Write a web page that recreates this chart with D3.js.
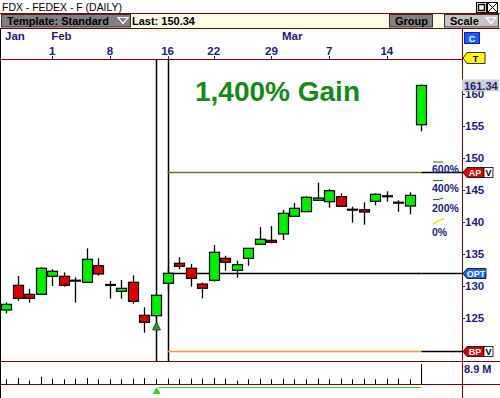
<!DOCTYPE html>
<html><head><meta charset="utf-8">
<script src="https://cdn.jsdelivr.net/npm/d3@7"></script>
<style>
body{margin:0;background:#fff;overflow:hidden}
svg{display:block;font-family:Arial,"Liberation Sans",sans-serif}
</style>
</head><body>
<svg id="c" width="500" height="398"></svg>
<script>
// ---- data ----
const opens  = [126.25,130.11,128.70,128.70,131.52,131.52,130.83,130.58,133.17,130.16,129.17,130.58,125.42,125.36,130.42,133.55,132.77,130.31,130.89,134.33,132.45,134.33,136.52,137.14,138.13,140.89,141.61,143.39,143.17,143.95,141.92,141.92,143.23,144.02,143.02,142.50,155.20];
const highs  = [127.45,131.56,129.53,132.90,132.61,132.14,131.36,135.89,134.33,130.78,130.94,131.67,126.67,128.80,132.86,134.53,133.44,130.52,136.41,134.73,133.95,135.90,139.22,139.38,141.88,142.97,144.06,146.14,145.16,144.48,142.39,143.08,144.48,144.80,143.39,144.64,161.50];
const lows   = [125.73,127.70,127.39,128.70,130.00,129.89,127.39,130.58,131.61,128.02,128.02,127.23,122.70,125.00,129.10,132.60,129.90,128.08,130.67,132.39,131.30,133.17,136.52,136.67,137.19,140.89,141.60,143.39,142.23,142.45,139.90,139.58,142.61,143.17,141.61,141.20,154.17];
const closes = [127.14,128.08,128.08,132.77,132.30,130.11,130.83,134.17,131.88,130.16,129.64,127.61,124.33,128.55,131.98,133.08,131.20,129.64,135.27,133.70,133.33,135.89,137.30,136.88,141.36,142.14,143.86,143.75,144.89,142.45,141.92,141.56,144.33,144.02,143.02,144.17,161.34];
const volumes = [2.1,2.7,1.6,3.2,2.4,2.1,2.4,2.7,2.1,2.1,2.1,2.4,2.7,2.1,2.4,2.1,2.4,2.4,2.7,2.4,1.5,2.1,2.4,2.1,2.4,2.1,2.1,2.4,2.1,2.4,2.1,2.4,2.1,2.4,2.4,2.1,8.9];
const dayTickIdx = [4,9,14,18,23,28,33];
const dayTickLabels = ["1","8","16","22","29","7","14"];
const monthIdx = [0,4,24];
const monthLabels = ["Jan","Feb","Mar"];
const priceTicks = [125,130,135,140,145,150,155,160];
const lastPrice = 161.34;
const lastQuote = "Last: 150.34";
const levelNames = ["AP","OPT","BP"];
const levelValues = [147.8,132.0,119.85];
const pctLabels = ["600%","400%","200%","0%"];
const volumeLabel = "8.9 M";
const title = "FDX - FEDEX - F (DAILY)";
const gainText = "1,400% Gain";
const signalIdx = 13;

// ---- styles ----
const MAROON = "#800000", NAVY = "#1c1c84", GREEN = "#00ee00", RED = "#e00000";
const svg = d3.select("#c");

const x = d3.scaleLinear().domain([0, opens.length - 1]).range([6, 421.4]);
const y = d3.scaleLinear().domain([140, 160]).range([222, 94]);
const yv = d3.scaleLinear().domain([0, 8.9]).range([384, 364]);
const AX = 462;

// title bar
svg.append("text").attr("x", 2).attr("y", 11).attr("font-size", 11.5)
  .attr("textLength", 120).attr("lengthAdjust", "spacingAndGlyphs").text(title);
svg.append("rect").attr("x", 476.5).attr("y", 2.5).attr("width", 10).attr("height", 10).attr("fill", "#fff").attr("stroke", "#000");
svg.append("rect").attr("x", 478.5).attr("y", 4.5).attr("width", 6).attr("height", 6).attr("fill", "none").attr("stroke", "#000").attr("stroke-width", 1.5);
svg.append("rect").attr("x", 487.5).attr("y", 2.5).attr("width", 10).attr("height", 10).attr("fill", "#fff").attr("stroke", "#000");
svg.append("path").attr("d", "M488,3L497,12M497,3L488,12").attr("stroke", "#000");

// toolbar
svg.append("rect").attr("x", 0).attr("y", 13.5).attr("width", 500).attr("height", 15).attr("fill", "#fffde4");
svg.append("line").attr("x1", 0).attr("x2", 500).attr("y1", 13.5).attr("y2", 13.5).attr("stroke", MAROON);
svg.append("line").attr("x1", 0).attr("x2", 500).attr("y1", 28.5).attr("y2", 28.5).attr("stroke", MAROON);
function button(x0, w, label, fill, tri) {
  svg.append("rect").attr("x", x0 + 0.5).attr("y", 14.5).attr("width", w).attr("height", 12.5)
    .attr("fill", fill).attr("stroke", "#333");
  svg.append("text").attr("x", x0 + 6).attr("y", 25).attr("font-size", 11).attr("font-weight", "bold").text(label);
  if (tri) {
    const tx = x0 + w - 12;
    svg.append("path").attr("d", `M${tx},17.5L${tx + 10},17.5L${tx + 5},23.5Z`).attr("fill", "none").attr("stroke", "#fff").attr("stroke-width", 1.2);
  }
}
button(1, 129, "Template: Standard", "#808080", true);
svg.append("text").attr("x", 132).attr("y", 25).attr("font-size", 11).attr("font-weight", "bold").text(lastQuote);
button(389, 43, "Group", "#808080", false);
button(444, 54, "Scale", "#c4c4c4", true);

// x-axis header
svg.append("line").attr("x1", 0).attr("x2", AX).attr("y1", 59.5).attr("y2", 59.5).attr("stroke", MAROON);
svg.selectAll(".mon").data(monthIdx).enter().append("text")
  .attr("x", (d, i) => i === 0 ? 5 : x(d) - 1).attr("y", 40)
  .attr("font-size", 11.5).attr("font-weight", "bold").attr("fill", NAVY)
  .text((d, i) => monthLabels[i]);
svg.selectAll(".day").data(dayTickIdx).enter().append("text")
  .attr("x", d => x(d)).attr("y", 55).attr("text-anchor", "middle")
  .attr("font-size", 11.5).attr("font-weight", "bold").attr("fill", NAVY)
  .text((d, i) => dayTickLabels[i]);
svg.selectAll(".dtk").data(dayTickIdx).enter().append("line")
  .attr("x1", d => Math.round(x(d)) + 0.5).attr("x2", d => Math.round(x(d)) + 0.5)
  .attr("y1", 56).attr("y2", 59).attr("stroke", NAVY);

// frame lines
svg.append("line").attr("x1", 0.5).attr("x2", 0.5).attr("y1", 29).attr("y2", 398).attr("stroke", "#000");
svg.append("line").attr("x1", AX + 0.5).attr("x2", AX + 0.5).attr("y1", 29).attr("y2", 398).attr("stroke", MAROON);
svg.append("line").attr("x1", 0).attr("x2", 500).attr("y1", 361.5).attr("y2", 361.5).attr("stroke", MAROON);
svg.append("line").attr("x1", 0).attr("x2", 500).attr("y1", 384.5).attr("y2", 384.5).attr("stroke", MAROON);

// gain text
svg.append("text").attr("x", 195).attr("y", 101).attr("font-size", 28).attr("font-weight", "bold")
  .attr("fill", "#168a16").text(gainText);

// vertical marker lines
[signalIdx, signalIdx + 1].forEach(i => {
  const xx = Math.round(x(i)) + 0.5;
  svg.append("line").attr("x1", xx).attr("x2", xx).attr("y1", 60).attr("y2", 361).attr("stroke", "#000").attr("stroke-width", 1.5);
});

// level lines
const lx0 = x(signalIdx + 1), lx1 = x(opens.length - 1);
const levelColors = ["#5d7f22", "#000", "#f29a2e"];
levelValues.forEach((v, i) => {
  const yy = Math.round(y(v)) + 0.5;
  svg.append("line").attr("x1", lx0).attr("x2", lx1).attr("y1", yy).attr("y2", yy).attr("stroke", levelColors[i]).attr("stroke-width", 1.3);
  svg.append("line").attr("x1", lx1).attr("x2", AX + 2).attr("y1", yy).attr("y2", yy).attr("stroke", "#000").attr("stroke-width", 1.3);
});

// candles
const idx = d3.range(opens.length);
const g = svg.append("g");
g.selectAll(".wick").data(idx).enter().append("line")
  .attr("x1", i => Math.round(x(i)) + 0.5).attr("x2", i => Math.round(x(i)) + 0.5)
  .attr("y1", i => y(highs[i])).attr("y2", i => y(lows[i]))
  .attr("stroke", "#000").attr("stroke-width", 1.3);
g.selectAll(".body").data(idx.filter(i => opens[i] !== closes[i])).enter().append("rect")
  .attr("x", i => Math.round(x(i)) - 4.5).attr("width", 10)
  .attr("y", i => y(Math.max(opens[i], closes[i])))
  .attr("height", i => Math.max(2, Math.abs(y(opens[i]) - y(closes[i]))))
  .attr("fill", i => closes[i] > opens[i] ? GREEN : RED)
  .attr("stroke", "#000").attr("stroke-width", 1.2);
g.selectAll(".doji").data(idx.filter(i => opens[i] === closes[i])).enter().append("line")
  .attr("x1", i => Math.round(x(i)) - 5).attr("x2", i => Math.round(x(i)) + 6)
  .attr("y1", i => y(opens[i])).attr("y2", i => y(opens[i]))
  .attr("stroke", "#000").attr("stroke-width", 2.2);

// signal triangle in price panel
const sx = Math.round(x(signalIdx)) + 0.5;
const sy = y(lows[signalIdx]) + 5;
svg.append("path").attr("d", `M${sx},${sy - 1}L${sx + 4},${sy + 7}L${sx - 4},${sy + 7}Z`)
  .attr("fill", "#2f9a2f").attr("stroke", "#104010").attr("stroke-width", 0.8);

// right price axis
const axis = d3.axisRight(y).tickValues(priceTicks).tickSize(3).tickFormat(d3.format("d"));
const ag = svg.append("g").attr("transform", `translate(${AX},0)`).call(axis);
ag.select(".domain").remove();
ag.selectAll(".tick line").attr("stroke", NAVY);
ag.selectAll(".tick text").attr("x", 3).attr("font-size", 11.5).attr("font-weight", "bold")
  .attr("fill", NAVY).attr("font-family", "Arial, 'Liberation Sans', sans-serif");

// last price label
const ly = y(lastPrice);
svg.append("rect").attr("x", 462).attr("y", ly - 6).attr("width", 37).attr("height", 12).attr("fill", "#d0d0d0");
svg.append("text").attr("x", 464).attr("y", ly + 4.5).attr("font-size", 11).attr("font-weight", "bold").attr("fill", NAVY).text(lastPrice.toFixed(2));

// percent legend
const pctY = [169, 188, 208, 232];
pctLabels.forEach((t, i) => {
  svg.append("text").attr("x", 432).attr("y", pctY[i] + 4).attr("font-size", 10.5).attr("font-weight", "bold").attr("fill", NAVY).text(t);
});
svg.append("line").attr("x1", 433).attr("x2", 443).attr("y1", 162).attr("y2", 162).attr("stroke", "#2a6a2a");
svg.append("line").attr("x1", 433).attr("x2", 443).attr("y1", 180.5).attr("y2", 180.5).attr("stroke", "#2a6a2a");
svg.append("path").attr("d", "M433,199.5L438,199.5L443,198").attr("fill", "none").attr("stroke", "#2a6a2a");
svg.append("path").attr("d", "M433,224L438,221L444,218.5").attr("fill", "none").attr("stroke", "#eeee00").attr("stroke-width", 1.5);

// tags
function tag(yc, label, fill, w, vbox, txtColor, h) {
  h = h || 10;
  const x0 = 463, top = yc - h / 2, bot = yc + h / 2;
  svg.append("path").attr("d", `M${x0},${yc}L${x0 + 4},${top}L${x0 + w},${top}L${x0 + w},${bot}L${x0 + 4},${bot}Z`)
    .attr("fill", fill).attr("stroke", "#000").attr("stroke-width", 0.8);
  svg.append("text").attr("x", x0 + 3 + (w - 3) / 2).attr("y", yc + 3.5).attr("text-anchor", "middle")
    .attr("font-size", 9).attr("font-weight", "bold").attr("fill", txtColor).text(label);
  if (vbox) {
    svg.append("rect").attr("x", x0 + w).attr("y", top).attr("width", 9).attr("height", h)
      .attr("fill", "#fff").attr("stroke", "#000").attr("stroke-width", 0.8);
    svg.append("text").attr("x", x0 + w + 4.5).attr("y", yc + 3.5).attr("text-anchor", "middle")
      .attr("font-size", 9).attr("font-weight", "bold").attr("fill", "#000").text("V");
  }
}
const tagFills = ["#dd0000", "#1a66ff", "#dd0000"];
levelValues.forEach((v, i) => {
  tag(Math.round(y(v)) + 0.5, levelNames[i], tagFills[i], levelNames[i] === "OPT" ? 23 : 21, levelNames[i] !== "OPT", "#fff");
});
tag(58, "T", "#ffff00", 22, false, "#000", 11);
svg.append("rect").attr("x", 464.5).attr("y", 32.5).attr("width", 15).attr("height", 11).attr("fill", "#1a5cff").attr("stroke", "#0a2a80");
svg.append("text").attr("x", 472).attr("y", 41.5).attr("text-anchor", "middle").attr("font-size", 9).attr("font-weight", "bold").attr("fill", "#fff").text("C");

// volume panel
svg.selectAll(".vol").data(idx).enter().append("line")
  .attr("x1", i => Math.round(x(i)) + 0.5).attr("x2", i => Math.round(x(i)) + 0.5)
  .attr("y1", 384).attr("y2", i => yv(volumes[i]))
  .attr("stroke", "#000").attr("stroke-width", 1);
svg.append("text").attr("x", 464).attr("y", 373).attr("font-size", 11).attr("font-weight", "bold").attr("fill", NAVY).text(volumeLabel);

// bottom signal line and triangle
svg.append("line").attr("x1", sx + 2).attr("x2", x(opens.length - 1)).attr("y1", 387.5).attr("y2", 387.5).attr("stroke", "#22dd22").attr("stroke-width", 1);
svg.append("path").attr("d", `M${sx},387L${sx + 4},394L${sx - 4},394Z`).attr("fill", "#22dd22");
</script>
</body></html>
